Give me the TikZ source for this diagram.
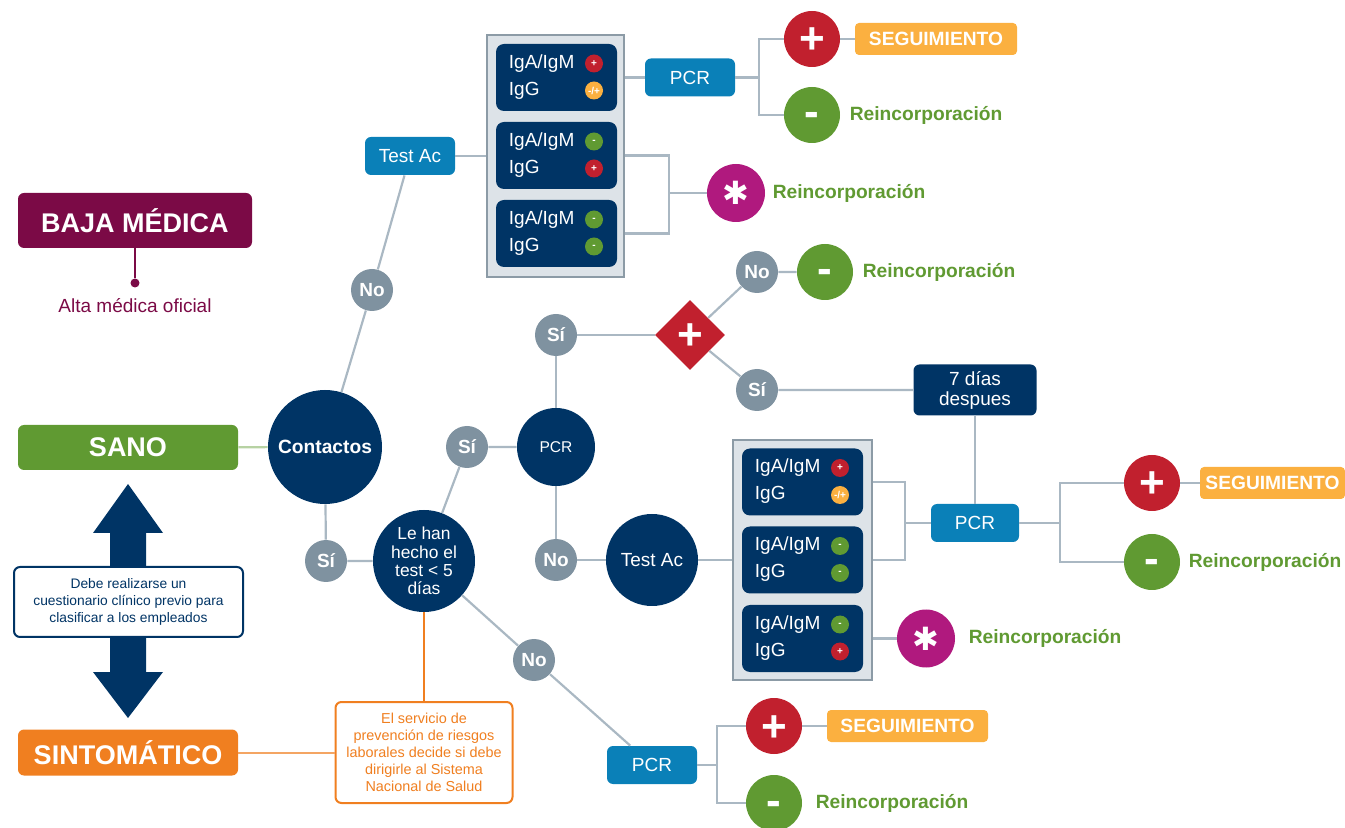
\documentclass[tikz,border=0pt]{standalone}
\usepackage{fontspec}
\setmainfont{Liberation Sans}
\newfontfamily\symfont{DejaVu Sans}
\usetikzlibrary{positioning,shapes.geometric}

\definecolor{cnavy}{RGB}{0,52,101}
\definecolor{cline}{RGB}{170,184,195}
\definecolor{cgray}{RGB}{127,146,160}
\definecolor{cblue}{RGB}{10,128,184}
\definecolor{cred}{RGB}{193,32,46}
\definecolor{cgreen}{RGB}{96,154,50}
\definecolor{cmag}{RGB}{176,25,126}
\definecolor{cyel}{RGB}{251,176,64}
\definecolor{cbaja}{RGB}{123,10,70}
\definecolor{corange}{RGB}{240,127,32}
\definecolor{cpanel}{RGB}{221,227,232}
\definecolor{cpanelb}{RGB}{140,155,166}

\newcommand{\mpm}{-/+}

\tikzset{
    ln/.style={draw=cline, line width=1.1pt},
    yesno/.style={circle, fill=cgray, text=white, font=\fontsize{9.5}{10}\selectfont\bfseries, minimum size=21pt, inner sep=0pt},
    bigdot/.style={circle, fill=cnavy, text=white, inner sep=0pt, align=center},
    bluebox/.style={rectangle, rounded corners=3pt, fill=cblue, text=white, font=\fontsize{9.5}{10}\selectfont, minimum width=45pt, minimum height=19pt, inner sep=0pt},
    plusres/.style={circle, fill=cred, text=white, font=\fontsize{22}{22}\selectfont\bfseries, text height=15pt, text depth=0pt, minimum size=28pt, inner sep=0pt},
    minres/.style={circle, fill=cgreen, text=white, font=\fontsize{22}{22}\selectfont\bfseries, text height=12pt, text depth=0pt, minimum size=28pt, inner sep=0pt},
    starres/.style={circle, fill=cmag, text=white, font=\symfont\fontsize{16}{16}\selectfont\bfseries, minimum size=29pt, inner sep=0pt},
    seg/.style={rectangle, rounded corners=2pt, fill=cyel, text=white, font=\fontsize{9.6}{10}\selectfont\bfseries, minimum height=16pt, inner sep=0pt},
    reinc/.style={text=cgreen, font=\fontsize{9.6}{10}\selectfont\bfseries, inner sep=0pt, anchor=west},
    panel/.style={rectangle, fill=cpanel, draw=cpanelb, line width=1pt, inner sep=0pt},
    igbox/.style={rectangle, rounded corners=4pt, fill=cnavy, minimum width=60.5pt, minimum height=33.5pt, inner sep=0pt},
    igtxt/.style={text=white, font=\fontsize{9.5}{10}\selectfont, inner sep=0pt, anchor=west},
    badge/.style={circle, text=white, font=\fontsize{5}{5}\selectfont\bfseries, minimum size=9pt, inner sep=0pt},
    status/.style={rectangle, rounded corners=3pt, text=white, font=\fontsize{13.5}{14}\selectfont\bfseries, inner sep=0pt},
    note/.style={rectangle, rounded corners=3pt, fill=white, line width=1pt, align=center, inner sep=0pt},
}

\begin{document}
\begin{tikzpicture}[x=0.5pt, y=-0.5pt]
    \useasboundingbox (0,0) rectangle (1345,828);

    % left column
    \node[status, fill=cbaja, minimum width=117pt, minimum height=27.5pt] (baja) at (135,220.5) {BAJA MÉDICA};
    \node[circle, fill=cbaja, minimum size=4.5pt, inner sep=0pt] (dot) at (135,283) {};
    \node[text=cbaja, font=\fontsize{9.5}{10}\selectfont, inner sep=0pt] (alta) at (135,306) {Alta médica oficial};
    \draw[draw=cbaja, line width=1pt] (baja) -- (dot);

    \node[status, fill=cgreen, minimum width=110pt, minimum height=22.5pt] (sano) at (128,447.5) {SANO};
    \node[status, fill=corange, minimum width=110pt, minimum height=23pt] (sint) at (128,752.5) {SINTOMÁTICO};

    \fill[cnavy] (128,484) -- (163,533) -- (146,533) -- (146,672) -- (163,672) -- (128,718)
        -- (93,672) -- (110,672) -- (110,533) -- (93,533) -- cycle;
    \node[note, draw=cnavy, text=cnavy, minimum width=114.5pt, minimum height=35pt,
        font=\fontsize{6.9}{8.3}\selectfont] (debe) at (128.5,602)
        {Debe realizarse un\\cuestionario clínico previo para\\clasificar a los empleados};

    % main tree
    \node[bigdot, minimum size=57pt, font=\fontsize{9.6}{10}\selectfont\bfseries] (cont) at (325,447) {Contactos};
    \node[bigdot, minimum size=51pt, font=\fontsize{8.7}{9.2}\selectfont] (test5) at (424,561) {Le han\\hecho el\\test < 5\\días};
    \node[bigdot, minimum size=39pt, font=\fontsize{7.8}{8}\selectfont] (pcrM) at (556,447) {PCR};
    \node[bigdot, minimum size=46pt, font=\fontsize{9.5}{10}\selectfont] (tacM) at (652,560) {Test Ac};

    \node[yesno] (no1) at (372,290) {No};
    \node[yesno] (si1) at (326,561) {Sí};
    \node[yesno] (si2) at (467,447) {Sí};
    \node[yesno] (si3) at (556,335) {Sí};
    \node[yesno] (no2) at (556,560) {No};
    \node[yesno] (no3) at (757,272) {No};
    \node[yesno] (si4) at (757,390) {Sí};
    \node[yesno] (no4) at (534,660) {No};

    \node[diamond, fill=cred, text=white, minimum width=35pt, minimum height=35pt, inner sep=0pt,
        font=\fontsize{22}{22}\selectfont\bfseries, text height=15pt, text depth=0pt] (dia) at (690,335) {+};

    \node[bluebox] (tacA) at (410,156) {Test Ac};
    \node[bluebox] (pcrA) at (690,77.5) {PCR};
    \node[bluebox, minimum width=44pt] (pcrB) at (975,523) {PCR};
    \node[bluebox] (pcrD) at (652,765) {PCR};

    \node[rectangle, rounded corners=3pt, fill=cnavy, text=white, align=center, inner sep=0pt,
        font=\fontsize{9.5}{10}\selectfont, minimum width=61.5pt, minimum height=25.5pt] (wait7) at (975,390) {7 días\\despues};

    \node[note, draw=corange, text=corange, minimum width=88.5pt, minimum height=50.5pt,
        font=\fontsize{7.2}{8.5}\selectfont] (serv) at (424,752.5)
        {El servicio de\\prevención de riesgos\\laborales decide si debe\\dirigirle al Sistema\\Nacional de Salud};

    % antibody panels
    \node[panel, minimum width=68.5pt, minimum height=121pt] (panA) at (555.5,156) {};
    \node[panel, minimum width=69.5pt, minimum height=120pt] (panB) at (802.5,560) {};
    \foreach \nm/\bx/\by/\ca/\sa/\cg/\sg in {a1/556.5/77.5/cred/+/cyel/\mpm, a2/556.5/155.5/cgreen/-/cred/+,
        a3/556.5/233.5/cgreen/-/cgreen/-, b1/802.5/482/cred/+/cyel/\mpm,
        b2/802.5/560/cgreen/-/cgreen/-, b3/802.5/638.5/cgreen/-/cred/+} {
        \node[igbox] (\nm) at (\bx,\by) {};
        \node[igtxt] (\nm-ta) at ([shift={(-48,-14)}]\nm) {IgA/IgM};
        \node[igtxt] (\nm-tg) at ([shift={(-48,13)}]\nm) {IgG};
        \node[badge, fill=\ca] (\nm-ba) at ([shift={(37.5,-14)}]\nm) {\sa};
        \node[badge, fill=\cg] (\nm-bg) at ([shift={(37.5,13)}]\nm) {\sg};
    }

    % outcomes
    \node[plusres] (plusA) at (812,39) {+};
    \node[minres] (minA) at (812,115) {-};
    \node[starres] (starA) at (736,193) {✱};
    \node[minres] (minM) at (825,272) {-};
    \node[plusres] (plusB) at (1152,483) {+};
    \node[minres] (minB) at (1152,562) {-};
    \node[starres] (starB) at (926,638.5) {✱};
    \node[plusres] (plusD) at (774,726) {+};
    \node[minres] (minD) at (774,803) {-};

    \node[seg, minimum width=81pt] (segA) at (936,39) {SEGUIMIENTO};
    \node[seg, minimum width=72.5pt] (segB) at (1272.5,483) {SEGUIMIENTO};
    \node[seg, minimum width=80.5pt] (segD) at (907.5,726) {SEGUIMIENTO};

    \node[reinc, right=4.5pt of minA] (reA) {Reincorporación};
    \node[reinc, right=3.5pt of starA] (reS) {Reincorporación};
    \node[reinc, right=4.5pt of minM] (reM) {Reincorporación};
    \node[reinc, right=4pt of minB] (reB) {Reincorporación};
    \node[reinc, right=6.5pt of starB] (reT) {Reincorporación};
    \node[reinc, right=6.5pt of minD] (reD) {Reincorporación};

    \coordinate (fkA) at (759,77.5);
    \coordinate (fkS) at (669,193);
    \coordinate (fkB) at (905,523);
    \coordinate (fkC) at (1060,523);
    \coordinate (fkD) at (717,765);

    % connectors
    \draw[draw=cgreen!45, line width=1.1pt] (sano) -- (cont);
    \draw[ln] (cont) -- (no1) -- (tacA);
    \draw[ln] (tacA) -- (panA);
    \draw[ln] (pcrA -| panA.east) -- (pcrA);
    \draw[ln] (pcrA) -- (fkA);
    \draw[ln] (plusA) -| (fkA) |- (minA);
    \draw[ln] (plusA) -- (segA);
    \draw[ln] (panA.east |- a2) -| (fkS) |- (panA.east |- a3);
    \draw[ln] (fkS) -- (starA);

    \draw[ln] (cont) -- (si1) -- (test5);
    \draw[ln] (test5) -- (si2) -- (pcrM);
    \draw[ln] (pcrM) -- (si3) -- (dia);
    \draw[ln] (dia) -- (no3) -- (minM);
    \draw[ln] (dia) -- (si4) -- (wait7);
    \draw[ln] (wait7) -- (pcrB);
    \draw[ln] (pcrM) -- (no2) -- (tacM);
    \draw[ln] (tacM) -- (panB);
    \draw[ln] (panB.east |- b1) -| (fkB) |- (panB.east |- b2);
    \draw[ln] (fkB) -- (pcrB);
    \draw[ln] (starB -| panB.east) -- (starB);
    \draw[ln] (pcrB) -- (fkC);
    \draw[ln] (plusB) -| (fkC) |- (minB);
    \draw[ln] (plusB) -- (segB);

    \draw[ln] (test5) -- (no4) -- (pcrD);
    \draw[ln] (pcrD) -- (fkD);
    \draw[ln] (plusD) -| (fkD) |- (minD);
    \draw[ln] (plusD) -- (segD);

    \draw[draw=corange, line width=1pt] (test5) -- (serv);
    \draw[draw=corange!70, line width=1pt] (sint) -- (serv);
\end{tikzpicture}
\end{document}
